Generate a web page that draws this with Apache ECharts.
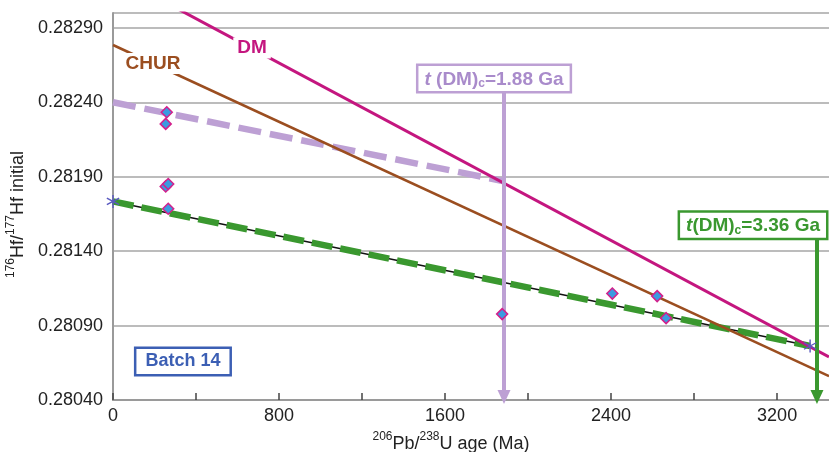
<!DOCTYPE html>
<html>
<head>
<meta charset="utf-8">
<script src="https://cdn.jsdelivr.net/npm/echarts@6/dist/echarts.min.js"></script>
<style>
html, body { margin: 0; padding: 0; background: #fff; }
#chart { width: 829px; height: 452px; }
</style>
</head>
<body>
<div id="chart"></div>
<script>
// zircon analyses (age Ma, initial 176Hf/177Hf)
var zirconAge = [259, 254, 254, 266, 266, 1875, 2406, 2622, 2665]
var zirconHf = [0.282333, 0.282255, 0.281835, 0.281851, 0.281685, 0.280977, 0.281115, 0.281098, 0.28095]

// reference lines (end points)
var dmAge = [0, 3450]
var dmHf = [0.28326, 0.28069]
var churAge = [0, 3450]
var churHf = [0.282785, 0.28056]
// crustal evolution lines
var youngAge = [0, 1884]
var youngHf = [0.2824, 0.28187]
var oldAge = [0, 3359]
var oldHf = [0.281734, 0.280763]
// model ages (Ma) marked by arrows
var modelAges = [1884, 3392]
var modelLabels = ['1.88', '3.36']

var xTicks = [0, 800, 1600, 2400, 3200]

function pairs(xs, ys) {
  return xs.map(function (x, i) { return [x, ys[i]] })
}

// six armed asterisk symbol
function starPath() {
  var L = 7, w = 0.7, s = ''
  ;[90, 30, 150].forEach(function (deg) {
    var a = deg * Math.PI / 180
    var dx = Math.cos(a), dy = Math.sin(a), px = -dy, py = dx
    var c = [
      [L * dx + w * px, L * dy + w * py],
      [L * dx - w * px, L * dy - w * py],
      [-L * dx - w * px, -L * dy - w * py],
      [-L * dx + w * px, -L * dy + w * py]
    ]
    s += 'M' + c.map(function (p) { return p[0].toFixed(2) + ',' + p[1].toFixed(2) }).join(' L') + ' Z '
  })
  return 'path://' + s
}

var font = 'Liberation Sans, Arial, sans-serif'
var purple = '#bda0d4'
var green = '#3a982f'

var dom = document.getElementById('chart')
var myChart = echarts.init(dom)

var boxRich = function (color) {
  return {
    it: { fontStyle: 'italic', fontWeight: 'bold', fontSize: 19, color: color, fontFamily: font },
    b: { fontWeight: 'bold', fontSize: 19, color: color, fontFamily: font },
    sub: { fontWeight: 'bold', fontSize: 12, color: color, fontFamily: font, verticalAlign: 'bottom', padding: [9, 0, 0, 0] }
  }
}

var titleRich = {
  n: { fontSize: 18, color: '#222', fontFamily: font, verticalAlign: 'bottom', lineHeight: 22 },
  sup: { fontSize: 12, color: '#222', fontFamily: font, verticalAlign: 'top', padding: [0, 0, 9, 0], lineHeight: 22 }
}

option = {
  animation: false,
  backgroundColor: '#fff',
  grid: { left: 113, right: 0, top: 13, bottom: 52, containLabel: false, outerBoundsMode: 'none' },
  xAxis: {
    type: 'value',
    min: 0,
    max: 3450,
    interval: 400,
    name: '{sup|206}{n|Pb/}{sup|238}{n|U age (Ma)}',
    nameLocation: 'middle',
    nameGap: 31,
    nameTextStyle: { padding: [0, 40, 0, 0], rich: titleRich },
    axisLine: { show: true, lineStyle: { color: '#9a9a9a', width: 2 } },
    axisTick: { show: true, inside: true, length: 7, lineStyle: { color: '#444', width: 1.5 } },
    axisLabel: {
      showMaxLabel: false,
      margin: 7,
      fontSize: 18,
      color: '#222',
      fontFamily: font,
      formatter: function (v) { return xTicks.indexOf(v) >= 0 ? String(v) : '' }
    },
    splitLine: { show: false }
  },
  yAxis: {
    type: 'value',
    min: 0.2804,
    max: 0.283,
    interval: 0.0005,
    name: '{sup|176}{n|Hf/}{sup|177}{n|Hf initial}',
    nameLocation: 'middle',
    nameRotate: 90,
    nameGap: 76,
    nameTextStyle: { padding: [0, 16, 0, 0], rich: titleRich },
    axisLine: { show: true, lineStyle: { color: '#9a9a9a', width: 2 } },
    axisTick: { show: false },
    axisLabel: {
      showMaxLabel: false,
      margin: 10,
      fontSize: 18,
      color: '#222',
      fontFamily: font,
      formatter: function (v) { return v.toFixed(5) }
    },
    splitLine: { show: true, lineStyle: { color: '#a6a6a6', width: 1.5 } }
  },
  series: [
    {
      name: 'regression',
      type: 'line',
      data: pairs(oldAge, oldHf),
      symbol: 'none',
      lineStyle: { color: '#111', width: 1.5 },
      z: 2
    },
    {
      name: 'old crust',
      type: 'line',
      data: pairs(oldAge, oldHf),
      symbol: 'none',
      lineStyle: { color: green, width: 6.5, type: [21, 8] },
      z: 3
    },
    {
      name: 'young crust',
      type: 'line',
      data: pairs(youngAge, youngHf),
      symbol: 'none',
      lineStyle: { color: purple, width: 6.5, type: [23, 9] },
      z: 3
    },
    {
      name: 'CHUR',
      type: 'line',
      data: pairs(churAge, churHf),
      symbol: 'none',
      clip: true,
      lineStyle: { color: '#9b4e20', width: 2.5 },
      z: 4
    },
    {
      name: 'DM',
      type: 'line',
      data: pairs(dmAge, dmHf),
      symbol: 'none',
      clip: true,
      lineStyle: { color: '#c4167f', width: 3 },
      z: 4
    },
    {
      name: 'arrows',
      type: 'line',
      data: [],
      z: 5,
      markLine: {
        silent: true,
        symbol: ['none', 'triangle'],
        symbolSize: [13, 14],
        label: { show: false },
        data: [
          [
            { coord: [modelAges[0], 0.28256], lineStyle: { color: purple, width: 4, type: 'solid' }, itemStyle: { color: purple } },
            { coord: [modelAges[0], 0.28042] }
          ],
          [
            { coord: [modelAges[1], 0.28157], lineStyle: { color: green, width: 4, type: 'solid' }, itemStyle: { color: green } },
            { coord: [modelAges[1], 0.28042] }
          ]
        ]
      }
    },
    {
      name: 'zircon',
      type: 'scatter',
      data: pairs(zirconAge, zirconHf),
      symbol: 'diamond',
      symbolSize: 11,
      itemStyle: { color: '#3b9be0', borderColor: '#d3208c', borderWidth: 1.5, opacity: 1 },
      z: 6
    },
    {
      name: 'end points',
      type: 'scatter',
      data: [[oldAge[0], oldHf[0]], [oldAge[1], oldHf[1]]],
      symbol: starPath(),
      symbolSize: 13,
      itemStyle: { color: '#5a5ac0', opacity: 1 },
      z: 7
    },
    {
      name: 'labels',
      type: 'scatter',
      symbolSize: 1,
      itemStyle: { color: 'transparent', opacity: 1 },
      z: 8,
      data: [
        {
          value: [670, 0.282765],
          label: {
            show: true, position: 'inside', formatter: 'DM',
            fontSize: 19, fontWeight: 'bold', color: '#c4167f', fontFamily: font,
            backgroundColor: '#fff', padding: [1, 4]
          }
        },
        {
          value: [193, 0.28266],
          label: {
            show: true, position: 'inside', formatter: 'CHUR',
            fontSize: 19, fontWeight: 'bold', color: '#9b4e20', fontFamily: font,
            backgroundColor: '#fff', padding: [1, 2]
          }
        },
        {
          value: [1836, 0.28256],
          label: {
            show: true, position: 'inside',
            formatter: '{it|t}{b| (DM)}{sub|c}{b|=' + modelLabels[0] + ' Ga}',
            rich: boxRich('#a98bcb'),
            backgroundColor: '#fff', borderColor: purple, borderWidth: 2.5,
            padding: [3, 6, 1, 6]
          }
        },
        {
          value: [3084, 0.281574],
          label: {
            show: true, position: 'inside',
            formatter: '{it|t}{b|(DM)}{sub|c}{b|=' + modelLabels[1] + ' Ga}',
            rich: boxRich(green),
            backgroundColor: '#fff', borderColor: green, borderWidth: 2.5,
            padding: [3, 6, 1, 6]
          }
        },
        {
          value: [337, 0.280659],
          label: {
            show: true, position: 'inside', formatter: 'Batch 14',
            fontSize: 18, fontWeight: 'bold', color: '#3c5fb4', fontFamily: font,
            backgroundColor: '#fff', borderColor: '#3c5fb4', borderWidth: 2.5,
            padding: [4, 9, 3, 9]
          }
        }
      ]
    }
  ]
}

if (option && typeof option === 'object') {
  myChart.setOption(option, true)
}
</script>
</body>
</html>
